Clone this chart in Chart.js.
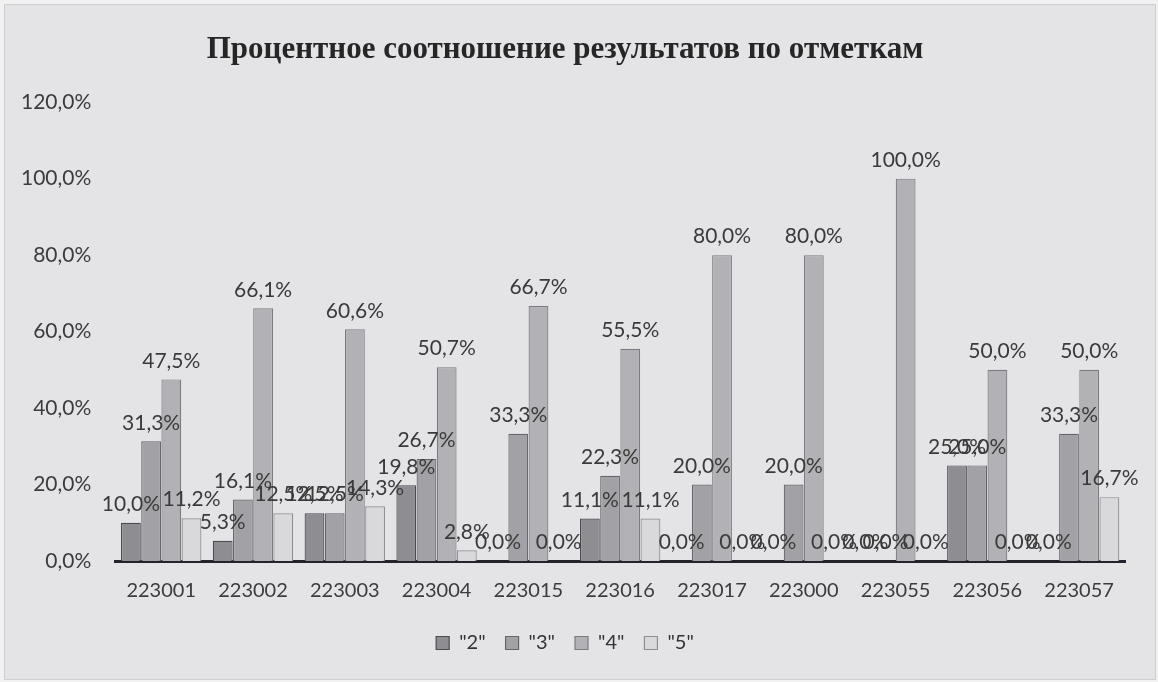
<!DOCTYPE html>
<html lang="ru">
<head>
<meta charset="utf-8">
<title>Процентное соотношение результатов по отметкам</title>
<script src="https://cdn.jsdelivr.net/npm/chart.js@4"></script>
<style>
    html, body { margin: 0; padding: 0; background: #f2f2f2; }
    .frame {
        position: absolute; left: 4px; top: 4px; width: 1150px; height: 674px;
        background: #e4e4e7; border: 1px solid #cfcfd3;
    }
    canvas { display: block; }
</style>
</head>
<body>
<div class="frame"><canvas id="marksChart" width="1150" height="674"></canvas></div>
<script>
// Данные
const schools = ['223001', '223002', '223003', '223004', '223015', '223016', '223017', '223000', '223055', '223056', '223057'];
const mark2 = [10.0, 5.3, 12.5, 19.8, 0.0, 11.1, 0.0, 0.0, 0.0, 25.0, 0.0];
const mark3 = [31.3, 16.1, 12.5, 26.7, 33.3, 22.3, 20.0, 20.0, 0.0, 25.0, 33.3];
const mark4 = [47.5, 66.1, 60.6, 50.7, 66.7, 55.5, 80.0, 80.0, 100.0, 50.0, 50.0];
const mark5 = [11.2, 12.5, 14.3, 2.8, 0.0, 11.1, 0.0, 0.0, 0.0, 0.0, 16.7];
const seriesNames = ['"2"', '"3"', '"4"', '"5"'];
const yTicks = [0, 20, 40, 60, 80, 100, 120];

const fontFamily = 'Lato, "Open Sans", sans-serif';

function pct(v) {
    return v.toFixed(1).replace('.', ',') + '%';
}

// Подписи значений над столбцами
const valueLabels = {
    id: 'valueLabels',
    afterDatasetsDraw(chart) {
        const ctx = chart.ctx;
        ctx.save();
        ctx.font = '21px ' + fontFamily;
        ctx.fillStyle = '#3a3a3a';
        ctx.textAlign = 'center';
        ctx.textBaseline = 'bottom';
        chart.data.datasets.forEach((ds, i) => {
            chart.getDatasetMeta(i).data.forEach((bar, j) => {
                ctx.fillText(pct(ds.data[j]), bar.x, bar.y - 8);
            });
        });
        ctx.restore();
    }
};

function makeSet(label, data, fill, border) {
    return {
        label: label,
        data: data,
        backgroundColor: fill,
        borderColor: border,
        borderWidth: 1.2,
        categoryPercentage: 0.88,
        barPercentage: 0.98
    };
}

const canvas = document.getElementById('marksChart');
new Chart(canvas, {
    type: 'bar',
    data: {
        labels: schools,
        datasets: [
            makeSet(seriesNames[0], mark2, '#8e8e92', '#4a4a50'),
            makeSet(seriesNames[1], mark3, '#a2a2a6', '#66666c'),
            makeSet(seriesNames[2], mark4, '#b2b2b6', '#7a7a80'),
            makeSet(seriesNames[3], mark5, '#d9d9dc', '#8e8e94')
        ]
    },
    options: {
        responsive: false,
        animation: false,
        layout: { padding: { left: 0, right: 30, top: 10, bottom: 16 } },
        scales: {
            y: {
                min: 0,
                max: 120,
                afterBuildTicks: (axis) => { axis.ticks = yTicks.map(v => ({ value: v })); },
                ticks: {
                    callback: (v) => pct(v),
                    font: { family: fontFamily, size: 21 },
                    color: '#3c3c3c',
                    padding: 16
                },
                grid: { display: false },
                border: { display: false }
            },
            x: {
                ticks: {
                    font: { family: fontFamily, size: 20 },
                    color: '#3c3c3c',
                    padding: 10
                },
                grid: { display: false },
                border: { display: true, color: '#23232e', width: 3 }
            }
        },
        plugins: {
            title: {
                display: true,
                text: 'Процентное соотношение результатов по отметкам',
                font: { family: '"Liberation Serif", "Times New Roman", serif', size: 31, weight: 'bold' },
                color: '#262626',
                padding: { top: 16, bottom: 34 }
            },
            legend: {
                position: 'bottom',
                labels: {
                    boxWidth: 13,
                    boxHeight: 13,
                    padding: 20,
                    font: { family: fontFamily, size: 20 },
                    color: '#333'
                }
            },
            tooltip: { enabled: false }
        }
    },
    plugins: [valueLabels]
});
</script>
</body>
</html>
